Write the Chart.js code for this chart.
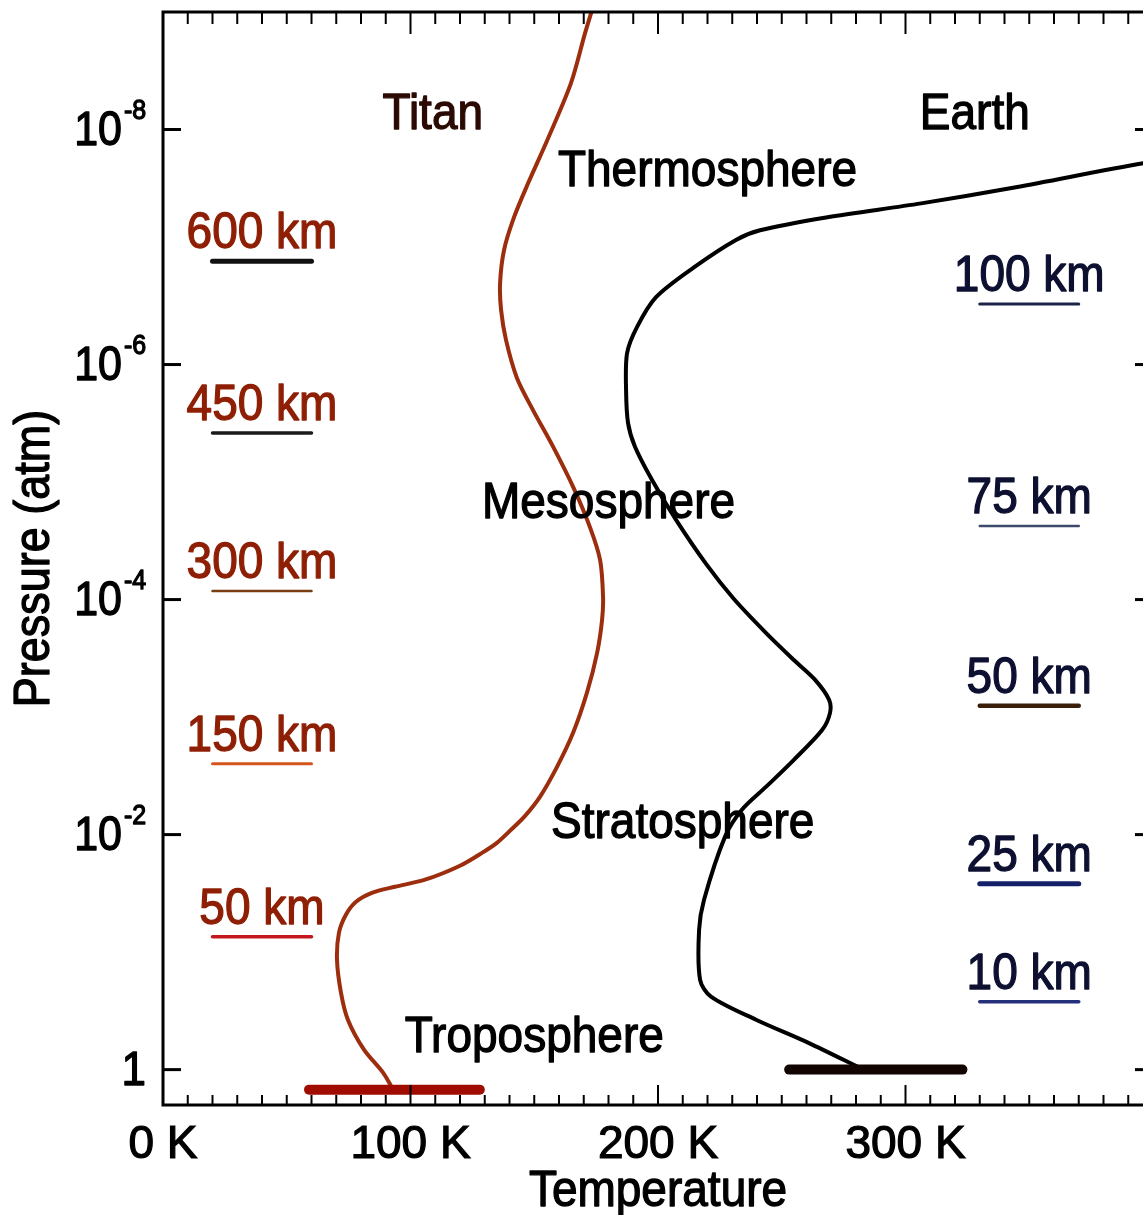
<!DOCTYPE html>
<html>
<head>
<meta charset="utf-8">
<script src="https://cdn.jsdelivr.net/npm/chart.js@4/dist/chart.umd.min.js"></script>
<style>
html, body { margin: 0; padding: 0; background: #fff; overflow: hidden; }
#wrap { width: 1160px; height: 1215px; }
</style>
</head>
<body>
<div id="wrap"><canvas id="profile" width="1160" height="1215"></canvas></div>
<script>
// Titan profile, surface upwards: temperature (K) and pressure (atm)
const titanTemp = [92.5, 88.9, 81.2, 74.7, 71.9, 70.3, 71.1, 73.9, 78.0, 84.4, 93.7, 105.9, 120.0, 128.9, 134.9, 140.6, 146.3, 152.3, 159.2, 165.7, 171.3, 175.4, 177.4, 177.8, 176.6, 172.5, 165.7, 157.6, 149.5, 143.0, 138.6, 136.6, 136.2, 137.8, 141.8, 147.5, 155.2, 164.8, 170.5, 173.3];
const titanPres = [1.42, 1.06, 0.676, 0.376, 0.221, 0.116, 0.0684, 0.0481, 0.0373, 0.0313, 0.0278, 0.0242, 0.0184, 0.0143, 0.01175, 0.0091, 0.00692, 0.00477, 0.00265, 0.00136, 6.2e-4, 2.84e-4, 1.49e-4, 9.5e-5, 4.6e-5, 2.42e-5, 1.1e-5, 5.0e-6, 2.44e-6, 1.3e-6, 6.2e-7, 3.44e-7, 2.03e-7, 1.06e-7, 5.6e-8, 2.87e-8, 1.24e-8, 4.05e-9, 1.52e-9, 9.7e-10];

// Earth profile, surface upwards
const earthTemp = [283, 260.6, 239.6, 221.4, 217.0, 216.6, 218.6, 227.1, 233.9, 243.6, 254.9, 266.3, 269.5, 269.1, 263.4, 254.9, 243.6, 230.5, 219.5, 207.3, 197.6, 190.7, 187.9, 187.1, 187.5, 191.5, 199.2, 214.5, 231.5, 241.2, 267.9, 306.3, 344.6, 396.0, 460];
const earthPres = [1.0, 0.589, 0.376, 0.239, 0.172, 0.0645, 0.0358, 0.0104, 0.00615, 0.00393, 0.00231, 0.00129, 9.2e-4, 7.1e-4, 4.8e-4, 3.27e-4, 1.92e-4, 9.8e-5, 5.0e-5, 2.1e-5, 9.6e-6, 5.0e-6, 3.15e-6, 1.65e-6, 8.0e-7, 4.8e-7, 2.67e-7, 1.49e-7, 8.7e-8, 7.2e-8, 5.6e-8, 4.25e-8, 3.1e-8, 1.94e-8, 1.2e-8];

// surface bars: temperature span and surface pressure
const titanSurfaceTemp = [59, 128];
const titanSurfacePres = 1.48;
const earthSurfaceTemp = [253, 323];
const earthSurfacePres = 1.0;

// altitude markers (pressure at that altitude), drawn as short bars
const titanAltLabels = ['600 km', '450 km', '300 km', '150 km', '50 km'];
const titanAltPres = [1.32e-7, 3.83e-6, 8.45e-5, 2.5e-3, 0.074];
const titanAltTemp = [20, 60];
const earthAltLabels = ['100 km', '75 km', '50 km', '25 km', '10 km'];
const earthAltPres = [3.06e-7, 2.37e-5, 8.0e-4, 0.0262, 0.264];
const earthAltTemp = [330, 370];

// region / planet labels
const regionNames = ['Titan', 'Earth', 'Thermosphere', 'Mesosphere', 'Stratosphere', 'Troposphere'];
const regionTemp = [109, 328, 220, 180, 210, 150];
const regionPres = [7.3e-9, 7.3e-9, 2.2e-8, 1.48e-5, 7.8e-3, 0.52];

// axis ticks and titles
const xTickValues = [0, 100, 200, 300];
const yTickValues = [1e-8, 1e-6, 1e-4, 1e-2, 1];
const yTickLabels = [['10', '-8'], ['10', '-6'], ['10', '-4'], ['10', '-2'], ['1', '']];
const xTitle = 'Temperature';
const yTitle = 'Pressure (atm)';

const FONT = '"Liberation Sans", Arial, Helvetica, sans-serif';
const titanAltColors = ['#111111', '#1a1a1a', '#7a3d12', '#d4561c', '#c4161c'];
const titanAltWidths = [5, 3.5, 2.5, 3, 3.5];
const earthAltColors = ['#1c2448', '#3c4a6e', '#3a1e08', '#14206a', '#24307a'];
const earthAltWidths = [3, 2.5, 4.5, 5, 3.5];

const pts = (ts, ps) => ts.map((t, i) => ({ x: t, y: ps[i] }));
const seg = (ts, p) => ts.map(t => ({ x: t, y: p }));

const datasets = [];
titanAltPres.forEach((p, i) => datasets.push({
    data: seg(titanAltTemp, p), borderColor: titanAltColors[i], borderWidth: titanAltWidths[i], borderCapStyle: 'round'
}));
earthAltPres.forEach((p, i) => datasets.push({
    data: seg(earthAltTemp, p), borderColor: earthAltColors[i], borderWidth: earthAltWidths[i], borderCapStyle: 'round'
}));
datasets.push({ data: seg(titanSurfaceTemp, titanSurfacePres), borderColor: '#a00c00', borderWidth: 10, borderCapStyle: 'round' });
datasets.push({ data: seg(earthSurfaceTemp, earthSurfacePres), borderColor: '#120400', borderWidth: 10, borderCapStyle: 'round' });
datasets.push({ data: pts(titanTemp, titanPres), borderColor: '#9c2e0e', borderWidth: 4, tension: 0.3 });
datasets.push({ data: pts(earthTemp, earthPres), borderColor: '#000000', borderWidth: 4, tension: 0.3 });
datasets.forEach(d => { d.pointRadius = 0; d.pointHoverRadius = 0; d.fill = false; });

// text slightly taller than wide, with a thin outline to match the heavy strokes
function stretchedText(ctx, str, px, py, size, color, align, rot) {
    ctx.save();
    ctx.translate(px, py);
    if (rot) ctx.rotate(rot);
    ctx.scale(1, 1.1);
    ctx.font = size + 'px ' + FONT;
    ctx.fillStyle = color;
    ctx.strokeStyle = color;
    ctx.lineWidth = 1.2;
    ctx.lineJoin = 'round';
    ctx.textAlign = align;
    ctx.textBaseline = 'middle';
    ctx.fillText(str, 0, 0);
    ctx.strokeText(str, 0, 0);
    ctx.restore();
}

const overlay = {
    id: 'overlay',
    afterDatasetsDraw(chart) {
        const { ctx, chartArea: a, scales: { x, y } } = chart;
        ctx.save();
        ctx.strokeStyle = '#000';
        const line = (x1, y1, x2, y2) => { ctx.beginPath(); ctx.moveTo(x1, y1); ctx.lineTo(x2, y2); ctx.stroke(); };

        // frame
        ctx.lineWidth = 3;
        ctx.strokeRect(a.left, a.top, a.right - a.left, a.bottom - a.top);

        // inward ticks, every 10 K, long at 100 K
        ctx.lineWidth = 2;
        for (let t = 0; t <= 400; t += 10) {
            const px = x.getPixelForValue(t);
            const major = t % 100 === 0;
            line(px, a.bottom, px, a.bottom - (major ? 20 : 10));
            line(px, a.top, px, a.top + (major ? 22 : 12));
        }
        ctx.lineWidth = 3;
        yTickValues.forEach((v, i) => {
            const py = y.getPixelForValue(v);
            line(a.left, py, a.left + 18, py);
            line(a.right, py, a.right - 18, py);
            const [base, sup] = yTickLabels[i];
            if (sup) {
                stretchedText(ctx, base, a.left - 41, py + 2, 43, '#000', 'right');
                stretchedText(ctx, sup, a.left - 39, py - 18, 25, '#000', 'left');
            } else {
                stretchedText(ctx, base, a.left - 17, py + 2, 44, '#000', 'right');
            }
        });

        // axis titles
        stretchedText(ctx, xTitle, (a.left + a.right) / 2, x.bottom - 23, 46, '#000', 'center');
        stretchedText(ctx, yTitle, y.left + 35, (a.top + a.bottom) / 2, 45, '#000', 'center', -Math.PI / 2);

        // altitude labels over their bars
        titanAltLabels.forEach((s, i) => {
            const px = x.getPixelForValue((titanAltTemp[0] + titanAltTemp[1]) / 2);
            stretchedText(ctx, s, px, y.getPixelForValue(titanAltPres[i]) - 27, 46, '#8e1f05', 'center');
        });
        earthAltLabels.forEach((s, i) => {
            const px = x.getPixelForValue((earthAltTemp[0] + earthAltTemp[1]) / 2);
            stretchedText(ctx, s, px, y.getPixelForValue(earthAltPres[i]) - 27, 46, '#0d1030', 'center');
        });

        regionNames.forEach((s, i) => {
            stretchedText(ctx, s, x.getPixelForValue(regionTemp[i]), y.getPixelForValue(regionPres[i]) + 2, 46,
                i === 0 ? '#2a0a02' : '#000', 'center');
        });
        ctx.restore();
    }
};

new Chart(document.getElementById('profile'), {
    type: 'line',
    data: { datasets },
    plugins: [overlay],
    options: {
        responsive: false,
        animation: false,
        devicePixelRatio: 1,
        layout: { padding: { top: 12, right: 7, left: 0, bottom: 0 } },
        plugins: { legend: { display: false }, tooltip: { enabled: false } },
        scales: {
            x: {
                type: 'linear',
                min: 0,
                max: 400,
                grid: { display: false, drawTicks: false },
                border: { display: false },
                afterBuildTicks: s => { s.ticks = xTickValues.map(v => ({ value: v })); },
                afterFit: s => { s.height = 110; },
                ticks: {
                    autoSkip: false, maxRotation: 0, padding: 13, color: '#000',
                    textStrokeColor: '#000', textStrokeWidth: 1.2,
                    font: { family: FONT, size: 46 },
                    callback: v => v + ' K'
                }
            },
            y: {
                type: 'logarithmic',
                reverse: true,
                min: 1e-9,
                max: 2,
                grid: { display: false, drawTicks: false },
                border: { display: false },
                ticks: { display: false },
                afterFit: s => { s.width = 163; }
            }
        }
    }
});
</script>
</body>
</html>
